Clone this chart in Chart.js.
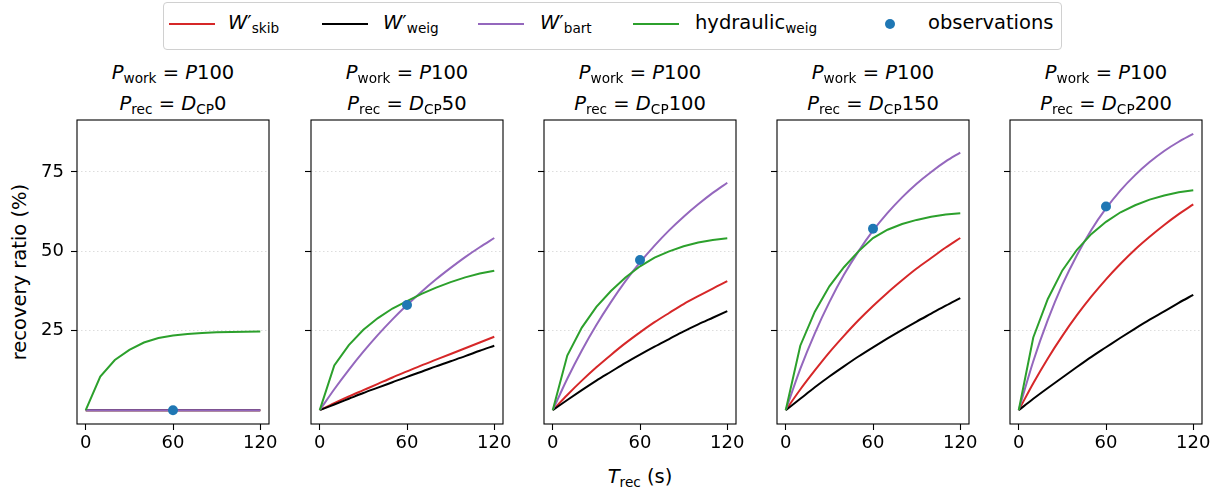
<!DOCTYPE html>
<html>
<head>
<meta charset="utf-8">
<script src="https://cdn.jsdelivr.net/npm/chart.js@4.4.1/dist/chart.umd.min.js"></script>
<style>
body { margin: 0; background: #fff; font-family: "DejaVu Sans", sans-serif; color: #000; }
#fig { position: relative; width: 1226px; height: 495px; overflow: hidden; }
canvas { position: absolute; top: 110px; }
.sub { font-size: 70%; position: relative; top: 0.32em; }
#legend { position: absolute; left: 163px; top: 2px; width: 897px; height: 46px; border: 1px solid #d0d0d0; border-radius: 4px; background: #fff; }
.lg-line { position: absolute; top: 20px; width: 46px; height: 2px; }
.lg-dot { position: absolute; top: 16px; width: 10px; height: 10px; border-radius: 50%; background: #1f77b4; }
.lg-text { position: absolute; top: 8px; font-size: 19.5px; line-height: 24px; white-space: nowrap; }
.title { position: absolute; top: 58px; width: 220px; text-align: center; font-size: 19.5px; line-height: 29px; white-space: nowrap; }
#ylabel { position: absolute; left: 19px; top: 272px; transform: translate(-50%, -50%) rotate(-90deg); font-size: 19.5px; white-space: nowrap; }
#xlabel { position: absolute; left: 640px; top: 465px; transform: translateX(-50%); font-size: 19.5px; white-space: nowrap; }
</style>
</head>
<body>
<div id="fig">
  <div id="legend">
    <div class="lg-line" style="left:5px; background:#d62728"></div>
    <div class="lg-text" style="left:64px"><i>W</i>′<span class="sub">skib</span></div>
    <div class="lg-line" style="left:158px; background:#000"></div>
    <div class="lg-text" style="left:219px"><i>W</i>′<span class="sub">weig</span></div>
    <div class="lg-line" style="left:314px; background:#9467bd"></div>
    <div class="lg-text" style="left:376px"><i>W</i>′<span class="sub">bart</span></div>
    <div class="lg-line" style="left:469px; background:#2ca02c"></div>
    <div class="lg-text" style="left:531px">hydraulic<span class="sub">weig</span></div>
    <div class="lg-dot" style="left:721px"></div>
    <div class="lg-text" style="left:764px">observations</div>
  </div>
  <div id="ylabel">recovery ratio (%)</div>
  <div id="xlabel"><i>T</i><span class="sub">rec</span> (s)</div>
</div>
<script>
const tRec = [0, 10, 20, 30, 40, 50, 60, 70, 80, 90, 100, 110, 120];
const dcpLevels = [0, 50, 100, 150, 200];
const xTicks = [0, 60, 120];
const yTicks = [25, 50, 75];

// one row per panel (P_rec = D_CP 0, 50, 100, 150, 200)
const wSkib = [
  [0, 0, 0, 0, 0, 0, 0, 0, 0, 0, 0, 0, 0],
  [0, 2.2, 4.3, 6.3, 8.3, 10.3, 12.2, 14.1, 15.9, 17.7, 19.5, 21.3, 23.1],
  [0, 4.8, 9.3, 13.5, 17.4, 21.1, 24.5, 27.7, 30.6, 33.4, 35.9, 38.3, 40.6],
  [0, 6.5, 12.5, 18.2, 23.4, 28.3, 32.8, 37, 40.9, 44.6, 47.9, 51.2, 54.2],
  [0, 8.5, 16.3, 23.4, 29.9, 35.8, 41.2, 46.1, 50.6, 54.6, 58.3, 61.7, 64.8]
];
const wWeig = [
  [0, 0, 0, 0, 0, 0, 0, 0, 0, 0, 0, 0, 0],
  [0, 1.8, 3.6, 5.4, 7.1, 8.8, 10.5, 12.1, 13.8, 15.4, 17, 18.7, 20.3],
  [0, 3.2, 6.3, 9.3, 12.1, 14.9, 17.5, 20, 22.4, 24.8, 27, 29.1, 31.2],
  [0, 3.6, 7.2, 10.6, 13.8, 16.9, 19.8, 22.6, 25.3, 27.9, 30.4, 32.9, 35.3],
  [0, 3.6, 7, 10.3, 13.6, 16.8, 19.8, 22.8, 25.7, 28.5, 31.1, 33.8, 36.3]
];
const wBart = [
  [0, 0, 0, 0, 0, 0, 0, 0, 0, 0, 0, 0, 0],
  [0, 6.6, 12.7, 18.4, 23.7, 28.6, 33.1, 37.3, 41.2, 44.8, 48.2, 51.3, 54.2],
  [0, 9.9, 18.8, 26.8, 34, 40.6, 46.5, 51.8, 56.6, 60.9, 64.8, 68.4, 71.6],
  [0, 13, 24.2, 34, 42.6, 50, 56.5, 62.1, 67, 71.3, 75, 78.3, 81.1],
  [0, 15.4, 28.4, 39.5, 48.8, 56.8, 63.5, 69.2, 74, 78.1, 81.6, 84.5, 87]
];
const hydWeig = [
  [0, 10.6, 15.8, 19, 21.3, 22.7, 23.5, 24, 24.3, 24.5, 24.6, 24.7, 24.8],
  [0, 14.1, 20.5, 25.3, 29, 32, 34.3, 36.6, 38.6, 40.3, 41.8, 43, 43.9],
  [0, 17.2, 26, 32.5, 37.5, 41.8, 45.3, 48, 50, 51.6, 52.8, 53.6, 54.1],
  [0, 20.3, 31, 39, 45, 50, 54.2, 56.8, 58.6, 59.9, 60.9, 61.6, 62],
  [0, 22.9, 35, 44, 50.5, 55.5, 59.3, 62.3, 64.5, 66.3, 67.6, 68.6, 69.2]
];
const obsT = [60, 60, 60, 60, 60];
const obsRatio = [0, 33.1, 47.3, 57.1, 64.1];

const plotLefts = [77, 311, 544, 777, 1010];
const plotWidth = 192;
const axisW = 60;
const rightPad = 25;
const font = { family: 'DejaVu Sans', size: 18 };

const framePlugin = {
  id: 'frame',
  afterDatasetsDraw(chart) {
    const { ctx, chartArea: a } = chart;
    ctx.save();
    ctx.strokeStyle = '#000';
    ctx.lineWidth = 1.1;
    ctx.strokeRect(a.left, a.top, a.right - a.left, a.bottom - a.top);
    ctx.restore();
  }
};

function noPad(s) {
  s.paddingTop = 0;
  s.paddingBottom = 0;
  s.paddingLeft = 0;
  s.paddingRight = 0;
}

function pts(arr) {
  return tRec.map((t, k) => ({ x: t, y: arr[k] }));
}

function line(arr, color, order, smooth) {
  return {
    type: 'line',
    data: pts(arr),
    borderColor: color,
    backgroundColor: color,
    borderWidth: 2,
    pointRadius: 0,
    fill: false,
    order: order,
    cubicInterpolationMode: smooth ? 'monotone' : 'default',
    tension: 0
  };
}

const fig = document.getElementById('fig');

dcpLevels.forEach((dcp, i) => {
  const title = document.createElement('div');
  title.className = 'title';
  title.style.left = (plotLefts[i] + plotWidth / 2 - 110) + 'px';
  title.innerHTML = '<i>P</i><span class="sub">work</span> = <i>P</i>100<br>' +
    '<i>P</i><span class="sub">rec</span> = <i>D</i><span class="sub">CP</span>' + dcp;
  fig.appendChild(title);

  const canvas = document.createElement('canvas');
  canvas.width = axisW + plotWidth + rightPad;
  canvas.height = 354;
  canvas.style.left = (plotLefts[i] - axisW) + 'px';
  fig.appendChild(canvas);

  new Chart(canvas.getContext('2d'), {
    type: 'line',
    data: {
      datasets: [
        {
          type: 'scatter',
          data: [{ x: obsT[i], y: obsRatio[i] }],
          backgroundColor: '#1f77b4',
          borderColor: '#1f77b4',
          pointRadius: 5,
          pointBorderWidth: 0,
          order: 0
        },
        line(hydWeig[i], '#2ca02c', 1, false),
        line(wBart[i], '#9467bd', 2, true),
        line(wWeig[i], '#000000', 3, true),
        line(wSkib[i], '#d62728', 4, true)
      ]
    },
    options: {
      responsive: false,
      animation: false,
      devicePixelRatio: 1,
      layout: { padding: { top: 10, right: rightPad, left: 0, bottom: 0 } },
      plugins: { legend: { display: false }, tooltip: { enabled: false } },
      scales: {
        x: {
          type: 'linear',
          min: -6,
          max: 126,
          afterBuildTicks: s => { s.ticks = xTicks.map(v => ({ value: v })); },
          afterFit: s => { s.height = 40; noPad(s); },
          grid: { drawOnChartArea: false, tickLength: 6, tickColor: '#000', tickWidth: 1.1 },
          border: { display: false },
          ticks: { color: '#000', font: font, padding: 3, maxRotation: 0 }
        },
        y: {
          type: 'linear',
          min: -4.35,
          max: 91.35,
          afterBuildTicks: s => { s.ticks = yTicks.map(v => ({ value: v })); },
          afterFit: s => { s.width = axisW; noPad(s); },
          grid: { color: '#d4d4d4', lineWidth: 0.8, tickColor: '#000', tickLength: 6, tickWidth: 1.1 },
          border: { display: false, dash: [1.5, 2.5] },
          ticks: { display: i === 0, color: '#000', font: font, padding: 7 }
        }
      }
    },
    plugins: [framePlugin]
  });
});
</script>
</body>
</html>
